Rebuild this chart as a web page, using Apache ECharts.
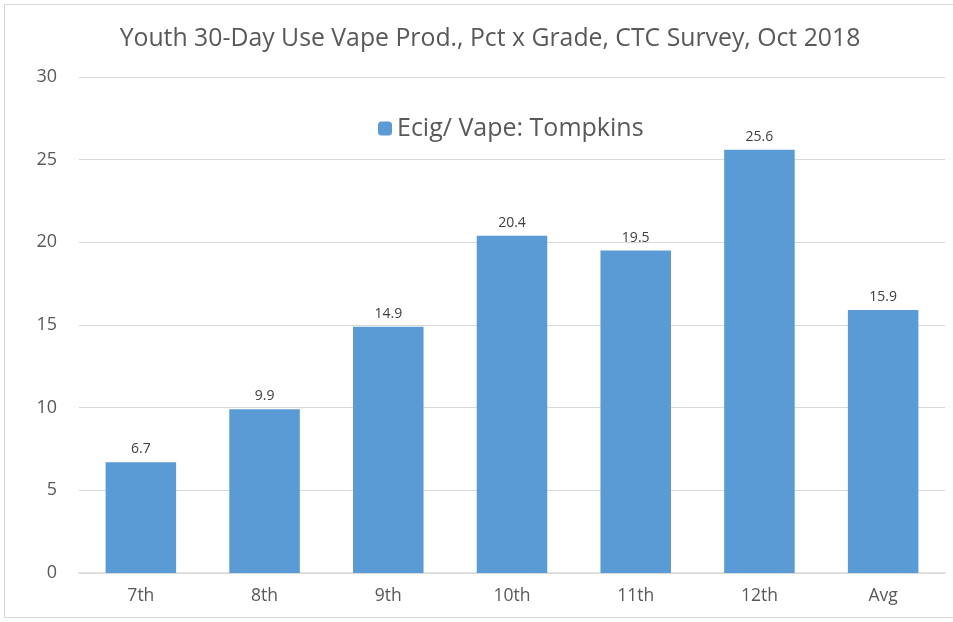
<!DOCTYPE html>
<html>
<head>
<meta charset="utf-8">
<script src="https://cdn.jsdelivr.net/npm/echarts@6/dist/echarts.min.js"></script>
<style>
  html, body { margin: 0; padding: 0; background: #fff; }
  #frame { position: absolute; left: 4px; top: 4px; width: 960px; height: 614px; border: 1px solid #d9d9d9; box-sizing: border-box; }
  #chart { width: 953px; height: 622px; position: absolute; left: 0; top: 0; }
</style>
</head>
<body>
<div id="frame"></div>
<div id="chart"></div>
<script>
var grades = ['7th', '8th', '9th', '10th', '11th', '12th', 'Avg'];
var tompkins = [6.7, 9.9, 14.9, 20.4, 19.5, 25.6, 15.9];
var yTicks = { min: 0, max: 30, interval: 5 };

var chart = echarts.init(document.getElementById('chart'));
var option = {
  animation: false,
  textStyle: { fontFamily: 'Open Sans' },
  title: {
    text: 'Youth 30-Day Use Vape Prod., Pct x Grade, CTC Survey, Oct 2018',
    left: 485,
    textAlign: 'center',
    top: 21,
    textStyle: { color: '#595959', fontSize: 24.8, fontWeight: 'normal', fontFamily: 'Open Sans' }
  },
  legend: {
    data: ['Ecig/ Vape: Tompkins'],
    left: 373,
    top: 111,
    itemWidth: 14,
    itemHeight: 14,
    itemGap: 6,
    textStyle: { color: '#595959', fontSize: 25, fontFamily: 'Open Sans' }
  },
  grid: { left: 79, right: 8, top: 77, bottom: 49, containLabel: false },
  xAxis: {
    type: 'category',
    data: grades,
    axisLine: { lineStyle: { color: '#d9d9d9', width: 1.5 } },
    axisTick: { show: false },
    axisLabel: { color: '#595959', fontSize: 17.5, margin: 14 }
  },
  yAxis: {
    type: 'value',
    min: yTicks.min,
    max: yTicks.max,
    interval: yTicks.interval,
    axisLine: { show: false },
    axisTick: { show: false },
    splitLine: { lineStyle: { color: '#d9d9d9', width: 1 } },
    axisLabel: { color: '#595959', fontSize: 18, margin: 22 }
  },
  series: [{
    name: 'Ecig/ Vape: Tompkins',
    type: 'bar',
    data: tompkins,
    barCategoryGap: '43%',
    itemStyle: { color: '#5b9bd5' },
    label: {
      show: true,
      position: 'top',
      distance: 6,
      color: '#404040',
      fontSize: 14,
      formatter: function (p) { return p.value.toFixed(1); }
    }
  }]
};
chart.setOption(option);
</script>
</body>
</html>
